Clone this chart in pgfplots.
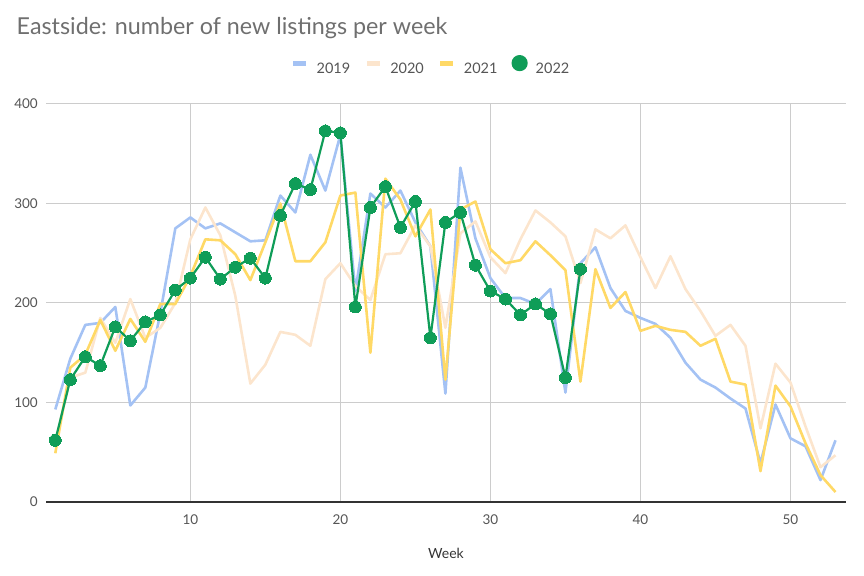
\documentclass[border=0pt]{standalone}
\usepackage{pgfplots}
\pgfplotsset{compat=1.18}
\usepackage{fontspec}
\setmainfont{Lato}
\definecolor{cA}{HTML}{A4C2F4}
\definecolor{cB}{HTML}{FCE5CD}
\definecolor{cC}{HTML}{FFD966}
\definecolor{cD}{HTML}{0F9D58}
\definecolor{titlegray}{HTML}{6F6F6F}
\definecolor{labgray}{HTML}{555555}
\definecolor{gridgray}{HTML}{CCCCCC}
\definecolor{axisdark}{HTML}{333333}
\pgfplotstableread{
w v
1 93
2 144
3 178
4 180
5 196
6 97
7 115
8 190
9 275
10 286
11 275
12 280
13 271
14 262
15 263
16 308
17 291
18 349
19 313
20 369
21 212
22 310
23 296
24 313
25 281
26 257
27 109
28 336
29 265
30 225
31 205
32 205
33 199
34 214
35 110
36 240
37 256
38 215
39 192
40 185
41 179
42 165
43 140
44 123
45 115
46 104
47 94
48 39
49 98
50 64
51 56
52 22
53 62
}\tA
\pgfplotstableread{
w v
1 60
2 125
3 130
4 185
5 160
6 204
7 165
8 175
9 200
10 264
11 296
12 268
13 207
14 119
15 138
16 171
17 168
18 157
19 224
20 240
21 217
22 203
23 249
24 250
25 278
26 257
27 175
28 270
29 282
30 246
31 230
32 264
33 293
34 281
35 267
36 220
37 274
38 265
39 278
40 246
41 215
42 247
43 214
44 192
45 167
46 178
47 157
48 74
49 139
50 120
51 76
52 35
53 47
}\tB
\pgfplotstableread{
w v
1 49
2 135
3 148
4 183
5 152
6 184
7 161
8 199
9 199
10 227
11 264
12 263
13 249
14 223
15 261
16 300
17 242
18 242
19 261
20 308
21 311
22 150
23 325
24 304
25 267
26 294
27 123
28 294
29 302
30 254
31 240
32 243
33 262
34 248
35 233
36 121
37 234
38 195
39 211
40 172
41 177
42 173
43 171
44 157
45 164
46 121
47 118
48 31
49 117
50 96
51 59
52 27
53 10
}\tC
\pgfplotstableread{
w v
1 62
2 123
3 146
4 137
5 176
6 162
7 181
8 188
9 213
10 225
11 246
12 224
13 236
14 245
15 225
16 288
17 320
18 314
19 373
20 371
21 196
22 296
23 317
24 276
25 302
26 165
27 281
28 291
29 238
30 212
31 204
32 188
33 199
34 189
35 125
36 234
}\tD
\begin{document}
\begin{tikzpicture}
\useasboundingbox (0,0) rectangle (864bp,576bp);
\node[anchor=base west, inner sep=0pt, text=titlegray, font=\fontsize{23.3bp}{28bp}\selectfont] at (16.5bp,541.7bp) {Eastside: number of new listings per week};
\node[anchor=center, inner sep=0pt, text=axisdark, font=\fontsize{14bp}{17bp}\selectfont] at (446bp,23bp) {Week};
\begin{axis}[
  at={(46bp,74bp)}, anchor=south west,
  scale only axis, width=800bp, height=398bp,
  xmin=0.38, xmax=53.7, ymin=0, ymax=400,
  xtick={10,20,30,40,50}, ytick={0,100,200,300,400},
  major tick length=0pt,
  grid=major, grid style={line width=1bp, gridgray},
  axis lines*=left,
  x axis line style={line width=1.6bp, axisdark, -},
  y axis line style={draw=none},
  /pgf/number format/assume math mode=true,
  ticklabel style={font=\fontsize{13.5bp}{16bp}\selectfont, text=labgray, inner sep=0pt},
  xticklabel style={anchor=north, yshift=-13bp},
  yticklabel style={anchor=east, xshift=-8bp},
  legend columns=4,
  legend style={at={(0.480,1.0985)}, anchor=center, draw=none, fill=none, inner sep=0pt, outer sep=0pt,
    font=\fontsize{14.5bp}{17bp}\selectfont, text=labgray, nodes={inner sep=0pt},
    /tikz/every odd column/.style={column sep=8bp},
    /tikz/every even column/.style={column sep=14bp}},
  line join=round,
]
\addplot[cA, line width=2.6bp, no marks, legend image code/.code={\draw[cA, line width=5bp] (0bp,5.5bp) -- (13bp,5.5bp);}] table[x=w,y=v] {\tA};
\addlegendentry{2019}
\addplot[cB, line width=2.6bp, no marks, legend image code/.code={\draw[cB, line width=5bp] (0bp,5.5bp) -- (13bp,5.5bp);}] table[x=w,y=v] {\tB};
\addlegendentry{2020}
\addplot[cC, line width=2.6bp, no marks, legend image code/.code={\draw[cC, line width=5bp] (0bp,5.5bp) -- (13bp,5.5bp);}] table[x=w,y=v] {\tC};
\addlegendentry{2021}
\addplot[cD, line width=2.2bp, mark=*, mark size=6bp, mark options={fill=cD, draw=cD, line width=0pt}, legend image code/.code={\fill[cD] (7bp,5.5bp) circle (7bp);}] table[x=w,y=v] {\tD};
\addlegendentry{2022}
\end{axis}
\end{tikzpicture}
\end{document}
